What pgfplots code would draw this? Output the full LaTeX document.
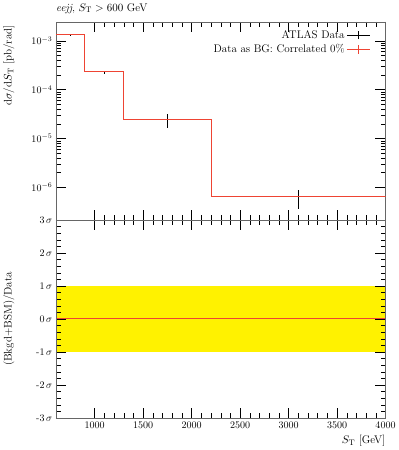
\documentclass[border=0pt]{standalone}
\usepackage{pgfplots}
\pgfplotsset{compat=1.18}
\definecolor{mcred}{RGB}{238,68,51}
\begin{document}
\begin{tikzpicture}
\pgfplotsset{
  every axis/.append style={font=\fontsize{11}{13}\selectfont},
  ticklabel style={font=\fontsize{10}{12}\selectfont},
  major tick length=10pt, minor tick length=5pt,
  every tick/.style={black, line width=0.4pt},
}
\begin{axis}[
  name=top, scale only axis, width=328pt, height=197pt,
  xmin=600, xmax=4000, ymode=log, ymin=2.15e-7, ymax=2.43e-3,
  xtick={1000,1500,...,4000}, minor x tick num=4, xticklabels={},
  ytick={1e-6,1e-5,1e-4,1e-3},
  tick align=inside, xtick pos=both, ytick pos=both,
  axis line style={black!60, line width=0.6pt},
  ylabel={d$\sigma$/d$S_\mathrm{T}$ [pb/rad]},
  ylabel style={at={(axis description cs:-0.115,1)}, anchor=south east},
  title={\textit{eejj}, $S_\mathrm{T} > 600$ GeV},
  title style={at={(0,1)}, anchor=south west, inner xsep=0pt, yshift=-1pt},
  legend style={at={(1,1)}, anchor=north east, xshift=-12pt, yshift=-4pt, draw=none, fill=none, row sep=1pt},
  legend cell align=right, legend plot pos=right,
]
\addplot[black, draw=none, mark=none, forget plot,
  error bars/.cd, y dir=both, y explicit,
  error bar style={draw=black, solid, line width=0.7pt}, error mark=none]
  coordinates {
  (750,1.30e-3) +- (0,2.5e-5)
  (1100,2.2e-4) +- (0,1.2e-5)
  (1750,2.45e-5) +- (0,8e-6)
  (3100,6.2e-7) +- (0,2.6e-7)
  };
\addlegendimage{black, legend image code/.code={
  \draw[black, line width=0.7pt] (0cm,0cm) -- (0.8cm,0cm);
  \draw[black, line width=0.7pt] (0.4cm,-0.15cm) -- (0.4cm,0.15cm);}}
\addplot[mcred, line width=1pt, const plot mark left, forget plot] coordinates {
  (600,1.37e-3) (900,2.4e-4) (1300,2.5e-5) (2200,6.4e-7) (4000,6.4e-7)
  };
\addlegendimage{mcred, legend image code/.code={
  \draw[mcred, line width=0.8pt] (0cm,0cm) -- (0.8cm,0cm);
  \draw[mcred, line width=0.8pt] (0.4cm,-0.15cm) -- (0.4cm,0.15cm);}}
\legend{ATLAS Data, Data as BG: Correlated 0\%}
\end{axis}
\begin{axis}[
  at={(top.south west)}, anchor=north west,
  scale only axis, width=328pt, height=197pt,
  xmin=600, xmax=4000, ymin=-3, ymax=3,
  xtick={1000,1500,...,4000}, minor x tick num=4,
  ytick={-3,-2,-1,0,1,2,3}, minor y tick num=4,
  yticklabels={-3\,$\sigma$,-2\,$\sigma$,-1\,$\sigma$,0\,$\sigma$,1\,$\sigma$,2\,$\sigma$,3\,$\sigma$},
  yticklabel style={font=\fontsize{10}{12}\selectfont},
  /pgf/number format/assume math mode=true,
  xticklabel style={/pgf/number format/1000 sep={}},
  tick align=inside, xtick pos=both, ytick pos=both,
  axis line style={black!60, line width=0.6pt},
  axis on top,
  ylabel={(Bkgd+BSM)/Data},
  ylabel style={at={(axis description cs:-0.115,0.5)}, anchor=south},
  xlabel={$S_\mathrm{T}$ [GeV]},
  xlabel style={at={(axis description cs:1,0)}, anchor=north east, yshift=-14pt, inner xsep=0pt},
]
\addplot[fill=yellow, draw=none] coordinates {(600,-1) (4000,-1) (4000,1) (600,1)} -- cycle;
\addplot[mcred, line width=1pt] coordinates {(600,0) (4000,0)};
\end{axis}
\end{tikzpicture}
\end{document}
